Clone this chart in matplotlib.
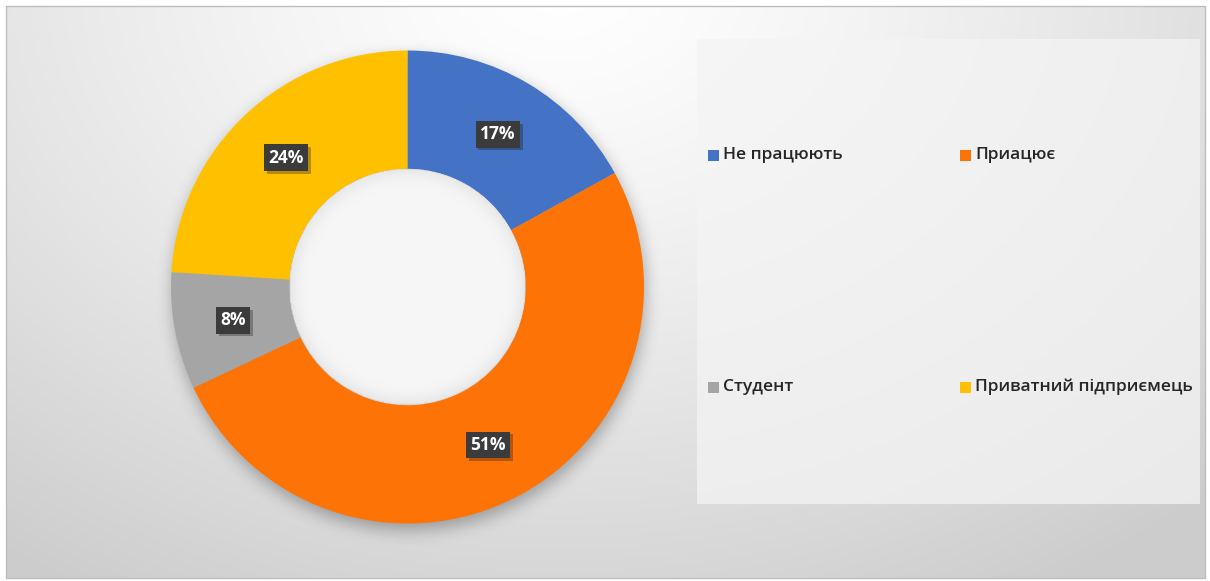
import numpy as np
import matplotlib.pyplot as plt
from matplotlib.patches import Rectangle, Circle
import matplotlib.patheffects as pe

labels = ["Не працюють", "Приацює", "Студент", "Приватний підприємець"]
shares = [17, 51, 8, 24]
colors = ["#4472C4", "#FD7306", "#A5A5A5", "#FFC000"]

W, H = 1210, 581
fig = plt.figure(figsize=(W / 100, H / 100), dpi=100)
fig.patch.set_facecolor("white")

# background axes in pixel coordinates
bg = fig.add_axes([0, 0, 1, 1])
bg.set_xlim(0, W)
bg.set_ylim(H, 0)
bg.axis("off")

# radial grey gradient for the chart area
yy, xx = np.mgrid[0:H, 0:W].astype(float)
d = np.sqrt(((xx - 560) / 1.0) ** 2 + ((yy + 20) / 0.75) ** 2)
shade = 1.0 - 0.20 * np.clip(d / 950, 0, 1) ** 1.3
grad = np.dstack([shade, shade, shade])
x0, y0, x1, y1 = 6, 6, 1205, 578
bg.imshow(grad[y0:y1, x0:x1], extent=(x0, x1, y1, y0), zorder=0, interpolation="bilinear")
bg.add_patch(Rectangle((x0, y0), x1 - x0, y1 - y0, fill=False, ec="#bdbdbd", lw=1, zorder=1))

# soft drop shadow under the ring
cx, cy, R, r_in = 407.5, 287.0, 236.5, 117.5
dist = np.sqrt((xx - cx - 1) ** 2 + (yy - cy - 6) ** 2)
ring = ((dist <= R) & (dist >= r_in)).astype(float)
k = np.exp(-0.5 * (np.arange(-24, 25) / 8.0) ** 2)
k /= k.sum()
blur = np.apply_along_axis(lambda v: np.convolve(v, k, mode="same"), 1, ring)
blur = np.apply_along_axis(lambda v: np.convolve(v, k, mode="same"), 0, blur)
sh = np.zeros((H, W, 4))
sh[..., 3] = 0.30 * blur
bg.imshow(sh, extent=(0, W, H, 0), zorder=2, interpolation="bilinear")

# legend panel
bg.add_patch(Rectangle((697, 39), 503, 465, fc="#f4f4f4", ec="none", alpha=0.75, zorder=1.5))
leg_pos = [(708, 155), (960, 155), (708, 387), (960, 387)]
for (lx, ly), lab, col in zip(leg_pos, labels, colors):
    bg.add_patch(Rectangle((lx, ly - 5), 11, 11, fc=col, ec="none", zorder=3))
    bg.text(lx + 15, ly, lab, fontsize=12.5, color="#262626", va="center", ha="left",
            family="Open Sans", fontweight="semibold", zorder=3)

# donut
pie_ax = fig.add_axes([(cx - R) / W, (H - cy - R) / H, 2 * R / W, 2 * R / H])
wedges, _, autotexts = pie_ax.pie(
    shares, colors=colors, startangle=90, counterclock=False,
    radius=1.0, pctdistance=0.75, autopct=lambda p: f"{p:.0f}%",
    wedgeprops=dict(width=0.5, edgecolor="none", antialiased=True),
)
pie_ax.set_xlim(-1, 1)
pie_ax.set_ylim(-1, 1)
pie_ax.set_aspect("equal")
pie_ax.axis("off")

# hole with a faint inner shading
hole = np.zeros((200, 200, 4))
gy, gx = np.mgrid[-1:1:200j, -1:1:200j]
rr = np.sqrt(gx ** 2 + gy ** 2)
v = 0.965 - 0.06 * np.clip((rr - 0.82) / 0.18, 0, 1) ** 2
hole[..., 0] = v
hole[..., 1] = v
hole[..., 2] = v
hole[..., 3] = (rr <= 1.0).astype(float)
h = 0.5
im = pie_ax.imshow(hole, extent=(-h, h, -h, h), zorder=3, interpolation="bilinear")
im.set_clip_path(Circle((0, 0), h, transform=pie_ax.transData))

for t in autotexts:
    t.set_color("white")
    t.set_fontweight("bold")
    t.set_family("Open Sans")
    t.set_fontsize(12.5)
    t.set_zorder(5)
    t.set_bbox(dict(boxstyle="square,pad=0.25", fc="#3b3b3b", ec="none"))
    t.get_bbox_patch().set_path_effects([pe.SimplePatchShadow(offset=(2, -2), alpha=0.3), pe.Normal()])

fig.savefig("out.png", dpi=100)
